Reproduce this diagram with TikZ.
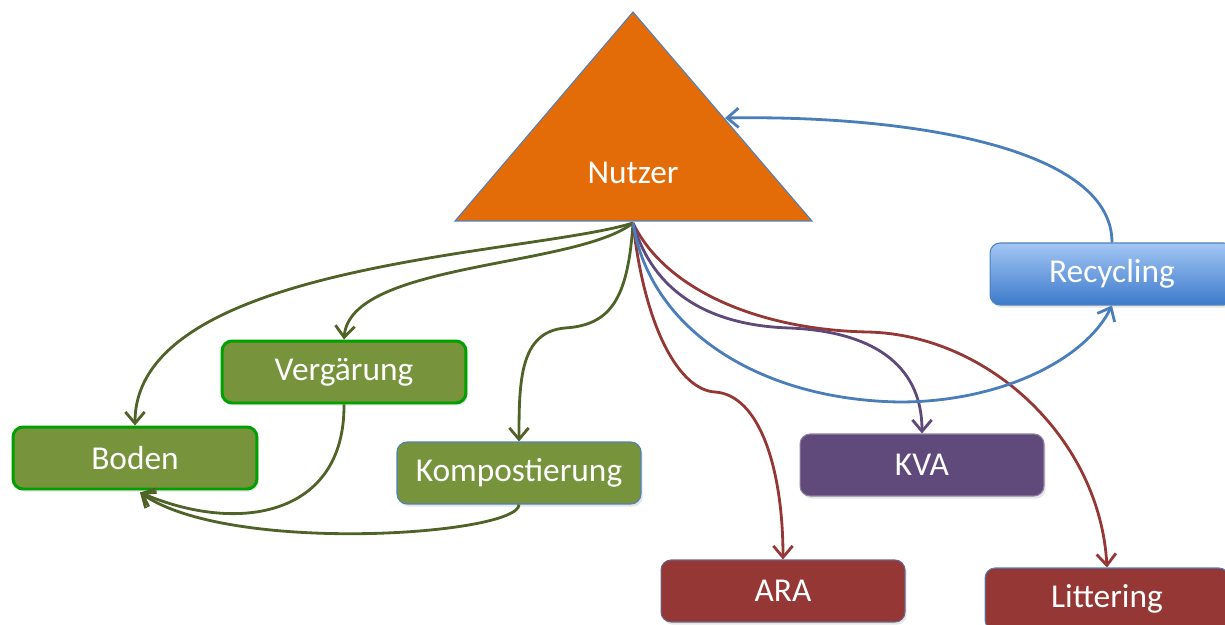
\documentclass[tikz,border=0pt]{standalone}
\usepackage{fontspec}
\setmainfont{Carlito}
\usepackage{tikz}
\usetikzlibrary{calc}
\usetikzlibrary{arrows.meta}
\usetikzlibrary{shadows}
\definecolor{nutzerorange}{HTML}{E36C09}
\definecolor{edgeblue}{HTML}{4F81BD}
\definecolor{greenfill}{HTML}{77933C}
\definecolor{greenedge}{HTML}{00A000}
\definecolor{greenline}{HTML}{4F6228}
\definecolor{redfill}{HTML}{953735}
\definecolor{purplefill}{HTML}{604A7B}
\definecolor{purpleline}{HTML}{5F497A}
\definecolor{blueline}{HTML}{4A7EBB}
\definecolor{recytop}{HTML}{A3C6F4}
\definecolor{recybot}{HTML}{3C7ACB}
\tikzset{
  box/.style={rectangle, rounded corners=0.2cm, minimum width=4.88cm, minimum height=1.24cm,
    text=white, font=\fontsize{19}{21}\selectfont,
    drop shadow={opacity=0.2, shadow xshift=1pt, shadow yshift=-1.5pt}},
  greenbox/.style={box, fill=greenfill, draw=greenedge, line width=1.7pt},
  flow/.style={line width=1.6pt, -{Straight Barb[length=6.5pt,width=11pt]}},
}
\newcommand{\stage}[5]{\node[box, fill=#4, draw=#5, line width=0.6pt] (#1) at (#2) {#3};}

\begin{document}
\begin{tikzpicture}[x=0.02cm,y=-0.02cm]
        \useasboundingbox (0,0) rectangle (1225,625);
        % user triangle
        \filldraw[fill=nutzerorange, draw=edgeblue, line width=0.6pt] (633,12) -- (812,221) -- (455,221) -- cycle;
        \node[text=white, font=\fontsize{19}{21}\selectfont] (nutzer) at (633,173) {Nutzer};
        \coordinate (base) at (633,223);
        \coordinate (rside) at (725,118);
        % green boxes
        \node[greenbox] (vergaerung) at (344,372) {Vergärung};
        \node[greenbox] (boden) at (135,458) {Boden};
        \stage{kompost}{519,473}{Kompostierung}{greenfill}{edgeblue}
        % other boxes
        \stage{kva}{922,465}{KVA}{purplefill}{purplefill!70}
        \stage{ara}{783,591}{ARA}{redfill}{edgeblue!60!redfill}
        \stage{littering}{1107,599}{Littering}{redfill}{edgeblue}
        \node[box, top color=recytop, bottom color=recybot, draw=edgeblue, line width=0.6pt] (recycling) at (1112,274) {Recycling};
        \coordinate (bodenin) at ($(boden.south)+(5,2)$);
        % green arrows
        \draw[flow, greenline] (base) .. controls (530,255) and (135,262) .. (boden.north);
        \draw[flow, greenline] (base) .. controls (575,268) and (350,262) .. (vergaerung.north);
        \draw[flow, greenline] (base) .. controls (628,300) and (610,325) .. (565,328)
          .. controls (520,332) and (519,380) .. (kompost.north);
        \draw[flow, greenline] (vergaerung.south) .. controls (345,515) and (240,535) .. (bodenin);
        \draw[flow, greenline] (kompost.south) .. controls (519,535) and (230,555) .. (bodenin);
        % red arrows
        \draw[flow, redfill] (base) .. controls (645,330) and (680,390) .. (715,392)
          .. controls (760,395) and (783,470) .. (ara.north);
        \draw[flow, redfill] (base) .. controls (665,290) and (760,330) .. (868,332)
          .. controls (990,335) and (1100,440) .. (littering.north);
        % purple arrow
        \draw[flow, purpleline] (base) .. controls (655,300) and (720,326) .. (790,328)
          .. controls (880,332) and (922,370) .. (kva.north);
        % blue arrows
        \draw[flow, blueline] (base) .. controls (650,330) and (760,400) .. (900,402)
          .. controls (1000,402) and (1085,360) .. (recycling.south);
        \draw[flow, blueline] (recycling.north) .. controls (1112,145) and (900,115) .. (rside);
\end{tikzpicture}
\end{document}
